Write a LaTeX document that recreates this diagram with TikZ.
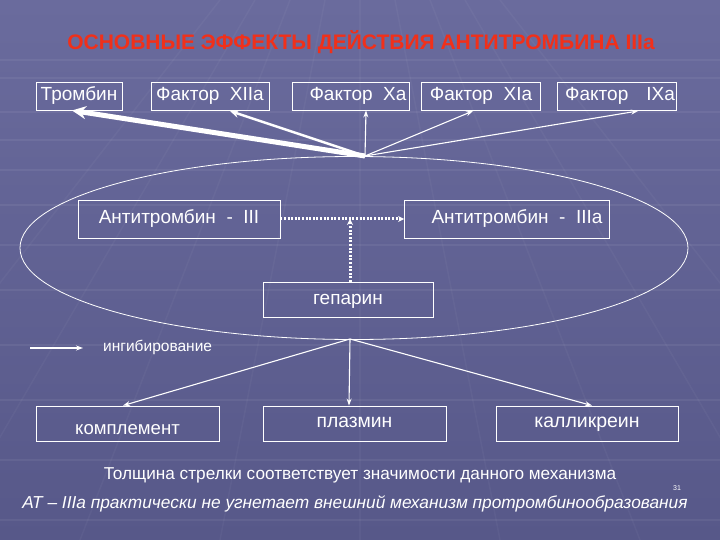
\documentclass[tikz,border=0pt]{standalone}
\usepackage{fontspec}
\setmainfont{Liberation Sans}
\usetikzlibrary{arrows.meta,shapes.geometric}
\definecolor{bgtop}{HTML}{6A6B9D}
\definecolor{bgbot}{HTML}{575889}
\definecolor{titlered}{HTML}{F0301A}
\tikzset{
  box/.style={draw=white, line width=0.9pt, text=white, inner sep=0pt, align=center, text height=13pt, text depth=4pt, font=\fontsize{19}{21}\selectfont},
  inh/.style={draw=white, -{Stealth[length=7pt,width=5pt]}, line width=1.1pt},
  dotarrow/.style={draw=white, line width=3pt, dash pattern=on 2pt off 1.6pt, -{Stealth[length=6pt,width=6pt]}},
  txt/.style={text=white, inner sep=0pt},
  grid line/.style={draw=white, opacity=0.06, line width=1.5pt},
  ray line/.style={draw=white, opacity=0.035, line width=1.5pt}
}
\begin{document}
\begin{tikzpicture}[x=1pt,y=-1pt]
\useasboundingbox (0,0) rectangle (720,540);
\shade[top color=bgtop, bottom color=bgbot] (0,0) rectangle (720,540);
% faint background grid
\foreach \yy in {60,78,112,140,170,205,245,290,345,400,460,520}
  \draw[grid line] (0,\yy) -- (720,\yy);
\foreach \xx in {-200,-60,80,220,360,500,640,780,920}
  \draw[ray line] (360+0.25*\xx-90,0) -- (\xx,540);

% title
\node[text=titlered, font=\fontsize{21}{24}\selectfont\bfseries, inner sep=0pt] (title) at (361,42)
  {ОСНОВНЫЕ ЭФФЕКТЫ ДЕЙСТВИЯ АНТИТРОМБИНА IIIa};

% top row
\node[box, minimum width=86pt, minimum height=28pt] (thr) at (79,96) {Тромбин};
\node[box, minimum width=118pt, minimum height=28pt] (f12) at (210,96) {Фактор\ \ XIIa};
\node[box, minimum width=117pt, minimum height=28pt] (f10) at (351,96) {\hspace*{14pt}Фактор\ \ Xa};
\node[box, minimum width=119pt, minimum height=28pt] (f11) at (481,96) {Фактор\ \ XIa};
\node[box, minimum width=119pt, minimum height=28pt] (f9) at (617,96) {\hspace*{6pt}Фактор\hspace{18pt}IXa};

% ellipse
\node[draw=white, line width=0.8pt, ellipse, minimum width=668pt, minimum height=183pt, inner sep=0pt] (ell) at (354,248) {};
\coordinate (c1) at (365,156);
\coordinate (c2) at (350,339);

% arrows to top boxes
\draw[draw=white, line width=5pt, -{Stealth[length=14pt,width=13pt]}] (c1) -- (thr.south -| 72,0);
\draw[draw=white, line width=2.4pt, -{Stealth[length=9pt,width=8pt]}] (c1) -- (230,111);
\draw[inh] (c1) -- (f10.south -| 366,0);
\draw[inh] (c1) -- (473,111);
\draw[inh] (c1) -- (638,111);

% antithrombin boxes
\node[box, minimum width=202pt, minimum height=38pt] (at3) at (179,219) {Антитромбин\ \ -\ \ III};
\node[box, minimum width=205pt, minimum height=38pt] (at3a) at (507,219) {\hspace*{20pt}Антитромбин\ \ -\ \ IIIa};
\node[box, minimum width=170pt, minimum height=35pt] (hep) at (348,300) {гепарин};
\coordinate (meet) at (350,219);
\draw[dotarrow] (at3.east) -- (at3a.west);
\draw[dotarrow] (hep.north -| meet) -- (meet);

% legend
\coordinate (lg1) at (30,348);
\coordinate (lg2) at (83,348);
\draw[inh] (lg1) -- (lg2);
\node[txt, anchor=west, font=\fontsize{15.5}{17}\selectfont] (lgt) at (103,347) {ингибирование};

% bottom boxes
\node[box, minimum width=183pt, minimum height=35pt, font=\fontsize{18.6}{21}\selectfont] (compl) at (127.5,423.5) {\raisebox{-6pt}{комплемент}};
\node[box, minimum width=183pt, minimum height=35pt, font=\fontsize{19.3}{21}\selectfont] (plasm) at (354.5,423.5) {\raisebox{1pt}{плазмин}};
\node[box, minimum width=182pt, minimum height=35pt, font=\fontsize{19.5}{21}\selectfont] (kall) at (587,423.5) {\raisebox{1pt}{калликреин}};
\draw[inh] (c2) -- (compl.north -| 123,0);
\draw[inh] (c2) -- (plasm.north -| 349,0);
\draw[inh] (c2) -- (kall.north -| 592,0);

% notes
\node[txt, font=\fontsize{17.2}{19}\selectfont] (note1) at (360,475) {Толщина стрелки соответствует значимости данного механизма};
\node[txt, font=\fontsize{17.3}{19}\selectfont\itshape] (note2) at (355,504) {АТ – IIIa практически не угнетает внешний механизм протромбинообразования};
\node[txt, font=\fontsize{7}{8}\selectfont] (pnum) at (677,488) {31};
\end{tikzpicture}
\end{document}
